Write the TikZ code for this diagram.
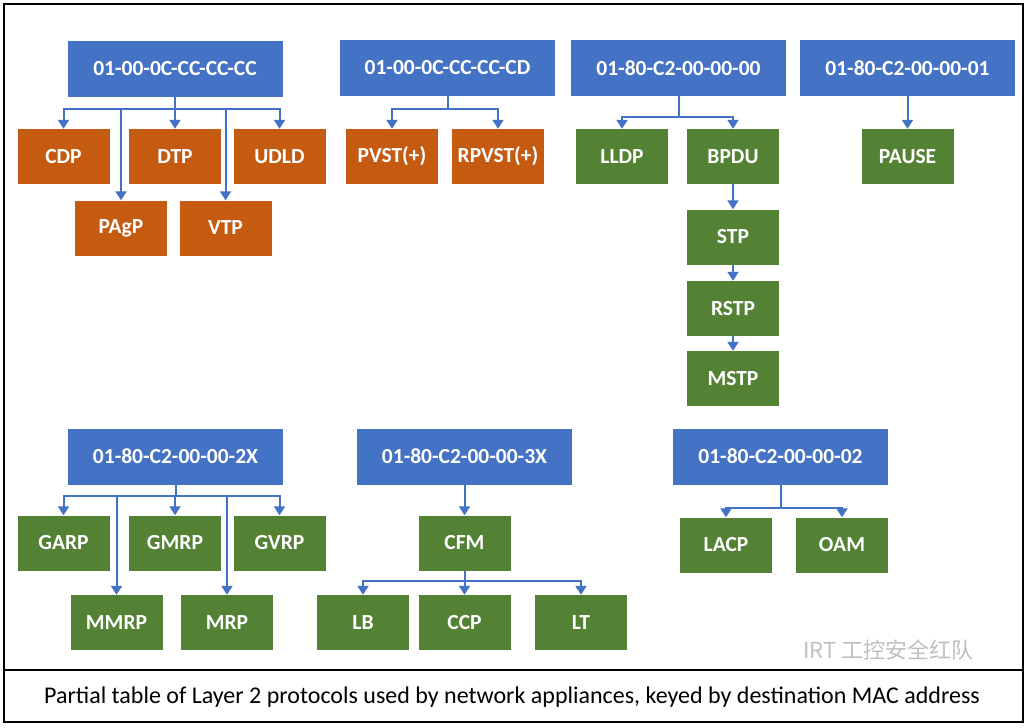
\documentclass[tikz,border=0pt]{standalone}
\usepackage{fontspec}
\setmainfont{Carlito}
\newfontfamily\cjkfont{Noto Sans CJK SC}
\usetikzlibrary{arrows.meta}
\definecolor{macblue}{HTML}{4472C4}
\definecolor{ciscoorange}{HTML}{C55A11}
\definecolor{ieeegreen}{HTML}{548235}
\begin{document}
\begin{tikzpicture}[x=1pt,y=-1pt]

    \tikzset{
      mac/.style={
        fill=macblue,
        text=white,
        font=\fontsize{21.5}{25}\selectfont\bfseries,
        minimum width=215pt,
        minimum height=56pt,
        inner sep=0pt,
      },
      proto/.style={
        text=white,
        font=\fontsize{21.5}{25}\selectfont\bfseries,
        minimum width=92pt,
        minimum height=55pt,
        inner sep=0pt,
      },
      cisco/.style={proto, fill=ciscoorange},
      ieee/.style={proto, fill=ieeegreen},
      link/.style={draw=macblue, line width=2pt, -{Triangle[width=11pt,length=9pt]}},
    }
    \useasboundingbox (0,0) rectangle (1029,728);
    \draw[line width=2.5pt] (4,4) rectangle (1023,722);
    \draw[line width=2.5pt] (4,670) -- (1023,670);

	% top row
	\node[mac] (h1) at (175,68.5) {01-00-0C-CC-CC-CC};
	\node[mac] (h2) at (447.5,68) {01-00-0C-CC-CC-CD};
	\node[mac] (h3) at (678.5,68) {01-80-C2-00-00-00};
	\node[mac] (h4) at (907.5,68) {01-80-C2-00-00-01};

	\node[cisco] (cdp) at (63.5,156.5) {CDP};
	\node[cisco] (dtp) at (175,156.5) {DTP};
	\node[cisco] (udld) at (279.5,156.5) {UDLD};
	\node[cisco] (pagp) at (121,228) {PAgP};
	\node[cisco] (vtp) at (225.5,228) {VTP};
	\node[cisco] (pvst) at (392,156.5) {PVST(+)};
	\node[cisco] (rpvst) at (498,156.5) {RPVST(+)};
	\node[ieee] (lldp) at (622,156.5) {LLDP};
	\node[ieee] (bpdu) at (733,156.5) {BPDU};
	\node[ieee] (stp) at (733,237) {STP};
	\node[ieee] (rstp) at (733,308.5) {RSTP};
	\node[ieee] (mstp) at (733,378.5) {MSTP};
	\node[ieee] (pause) at (907.5,156.5) {PAUSE};

	% bottom row
	\node[mac] (h5) at (175.5,456.5) {01-80-C2-00-00-2X};
	\node[mac] (h6) at (464.5,456.5) {01-80-C2-00-00-3X};
	\node[mac] (h7) at (780.5,456.5) {01-80-C2-00-00-02};

	\node[ieee] (garp) at (63.5,543) {GARP};
	\node[ieee] (gmrp) at (175,543) {GMRP};
	\node[ieee] (gvrp) at (279.5,543) {GVRP};
	\node[ieee] (mmrp) at (116.5,622.5) {MMRP};
	\node[ieee] (mrp) at (227,622.5) {MRP};
	\node[ieee] (cfm) at (464.5,543) {CFM};
	\node[ieee] (lb) at (363,622.5) {LB};
	\node[ieee] (ccp) at (464.5,622.5) {CCP};
	\node[ieee] (lt) at (581,622.5) {LT};
	\node[ieee] (lacp) at (726,545) {LACP};
	\node[ieee] (oam) at (842,545) {OAM};

	\foreach \c in {cdp,dtp,udld,pagp,vtp}
	  \draw[link] (h1.south) -- ++(0,12) -| (\c.north);
	\foreach \c in {pvst,rpvst}
	  \draw[link] (h2.south) -- ++(0,13) -| (\c.north);
	\foreach \c in {lldp,bpdu}
	  \draw[link] (h3.south) -- ++(0,21) -| (\c.north);
	\draw[link] (h4) -- (pause);
	\draw[link] (bpdu) -- (stp);
	\draw[link] (stp) -- (rstp);
	\draw[link] (rstp) -- (mstp);
	\foreach \c in {garp,gmrp,gvrp,mmrp,mrp}
	  \draw[link] (h5.south) -- ++(0,11) -| (\c.north);
	\draw[link] (h6) -- (cfm);
	\foreach \c in {lb,ccp,lt}
	  \draw[link] (cfm.south) -- ++(0,10) -| (\c.north);
	\foreach \c in {lacp,oam}
	  \draw[link] (h7.south) -- ++(0,23) -| (\c.north);

	\node (caption) at (512,697) {\fontsize{24}{28}\selectfont Partial table of Layer 2 protocols used by network appliances, keyed by destination MAC address};
	\node[text=black!25, anchor=west] (mark) at (800,650) {\fontsize{22}{26}\selectfont\cjkfont IRT 工控安全红队};

\end{tikzpicture}
\end{document}
